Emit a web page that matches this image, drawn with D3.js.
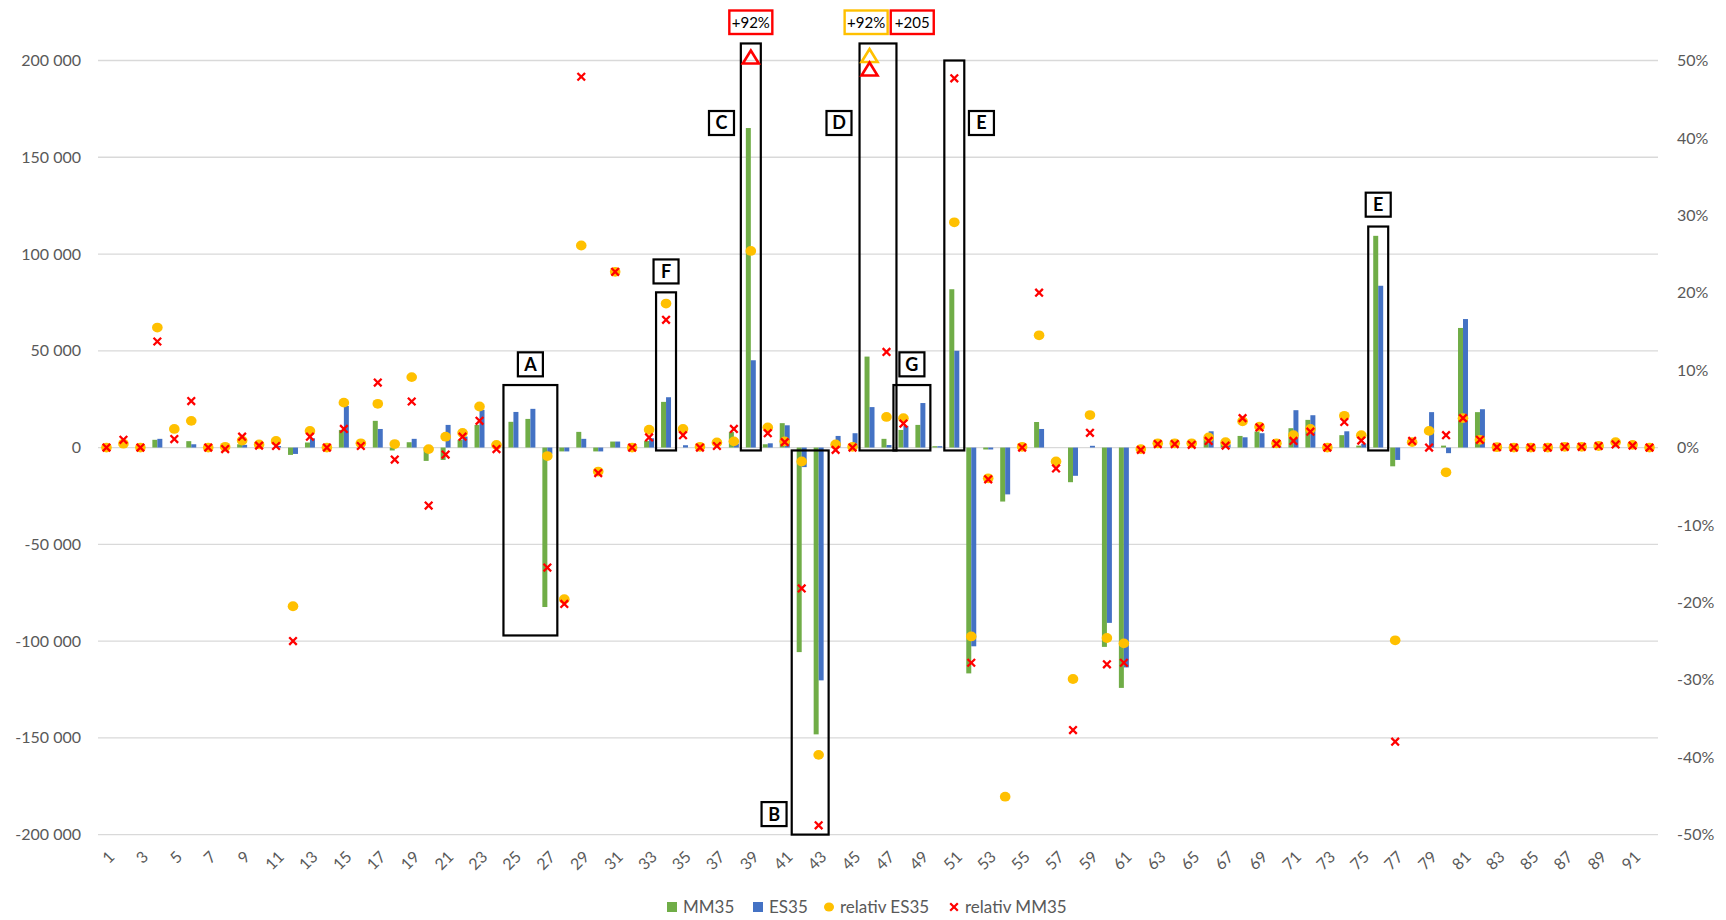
<!DOCTYPE html>
<html>
<head>
<meta charset="utf-8">
<script src="https://cdn.jsdelivr.net/npm/d3@7"></script>
<style>
  html,body{margin:0;padding:0;background:#fff;}
  svg{display:block;font-family:Lato,"Open Sans",sans-serif;}
</style>
</head>
<body>
<svg id="chart" width="1726" height="920"></svg>
<script>
// ---------------- DATA ----------------
const categories = d3.range(1, 93);

const mm35 = [
  0, 0, 0, 4000, 0, 3300, 0, 0, 1700, 0,
  0, -3800, 2600, 0, 9100, 0, 13800, -1500, 2750, -6900,
  -6400, 4000, 11700, 0, 13300, 14800, -82400, -2000, 8100, -2000,
  3100, 0, 3400, 23600, 0, 0, 0, 8000, 165100, 1700,
  12600, -105700, -148200, 0, 0, 47000, 4500, 9100, 11700, 700,
  81800, -116700, -1000, -27900, 0, 13200, 0, -17900, 0, -103000,
  -124200, 0, 0, 0, 0, 4500, 2700, 6000, 8300, 500,
  10000, 14300, 0, 6400, 1000, 109400, -9700, 0, 0, 1000,
  61800, 18300, 0, 0, 0, 0, 0, 0, 0, 0,
  0, 0
];

const es35 = [
  0, 0, 0, 4500, 0, 1700, 0, 0, 1400, 0,
  800, -3300, 4800, 0, 21500, 0, 9600, 0, 4500, 0,
  11700, 5700, 19500, 0, 18400, 20000, -3300, -2000, 4500, -2000,
  3100, 0, 4800, 26000, 1200, 0, 0, 2000, 45100, 2200,
  11500, -10100, -120300, 6000, 7400, 20900, 1300, 11200, 23000, 700,
  50000, -102700, -1000, -24200, 0, 9600, 0, -14600, 900, -90600,
  -113600, 0, 0, 0, 0, 8400, 1700, 5300, 7400, 500,
  19300, 16700, 0, 8400, 2000, 83600, -6400, 0, 18300, -2900,
  66400, 19800, 0, 0, 0, 0, 0, 0, 0, 0,
  0, 0
];

// relative change in percent (right axis); null = no marker
const relES35 = [
  0, 0.5, 0, 15.5, 2.4, 3.45, 0, 0.1, 0.9, 0.4,
  0.85, -20.5, 2.15, 0, 5.8, 0.55, 5.65, 0.45, 9.1, -0.2,
  1.4, 1.9, 5.3, 0.35, null, null, -1.1, -19.6, 26.1, -3.1,
  22.7, 0, 2.3, 18.6, 2.4, 0.1, 0.65, 0.8, 25.4, 2.6,
  0.8, -1.8, -39.7, 0.4, 0.1, 92, 3.95, 3.8, null, null,
  29.1, -24.4, -3.97, -45.1, 0.1, 14.5, -1.8, -29.9, 4.2, -24.6,
  -25.3, -0.2, 0.55, 0.55, 0.55, 1.3, 0.7, 3.4, 2.7, 0.55,
  1.6, 2.4, 0, 4.1, 1.6, null, -24.9, 0.7, 2.15, -3.2,
  3.8, 1.0, 0.05, 0, 0, 0, 0.1, 0.1, 0.2, 0.7,
  0.35, 0
];

const relMM35 = [
  0, 1.0, 0, 13.7, 1.1, 6.0, 0, -0.2, 1.4, 0.25,
  0.2, -25.0, 1.4, 0, 2.4, 0.2, 8.4, -1.55, 5.95, -7.5,
  -0.9, 1.4, 3.45, -0.2, null, null, -15.5, -20.2, 47.9, -3.3,
  22.7, 0, 1.3, 16.5, 1.6, 0, 0.2, 2.4, 92, 1.85,
  0.7, -18.2, -48.8, -0.3, 0, 205, 12.35, 3.1, null, null,
  47.7, -27.8, -4.1, null, 0, 20.0, -2.7, -36.5, 1.9, -28.0,
  -27.8, -0.3, 0.45, 0.45, 0.35, 0.85, 0.25, 3.8, 2.6, 0.5,
  0.85, 2.05, 0, 3.3, 0.9, null, -38.0, 0.85, 0, 1.6,
  3.8, 1.0, 0.05, 0, 0, 0, 0.1, 0.1, 0.2, 0.4,
  0.25, 0
];

const leftTicks = [-200000, -150000, -100000, -50000, 0, 50000, 100000, 150000, 200000];
const rightTicks = [-50, -40, -30, -20, -10, 0, 10, 20, 30, 40, 50];
const seriesNames = ["MM35", "ES35", "relativ ES35", "relativ MM35"];

// annotation boxes: category range + value range (left axis units)
const boxes = [
  {from: 25, to: 27, hi: 32300, lo: -97100},
  {from: 34, to: 34, hi: 80200, lo: -1500},
  {from: 39, to: 39, hi: 208800, lo: -1500},
  {from: 42, to: 43, hi: -1500, lo: -200000},
  {from: 46, to: 47, hi: 208800, lo: -1500},
  {from: 48, to: 49, hi: 32300, lo: -1500},
  {from: 51, to: 51, hi: 200000, lo: -1500},
  {from: 76, to: 76, hi: 114200, lo: -1500}
];
// letter labels: category position + value
const letterLabels = [
  {text: "A", cat: 26, value: 43000},
  {text: "F", cat: 34, value: 91000},
  {text: "C", cat: 37.27, value: 167700},
  {text: "D", cat: 44.2, value: 167700},
  {text: "E", cat: 52.6, value: 167700},
  {text: "B", cat: 40.37, value: -189400},
  {text: "G", cat: 48.5, value: 43000},
  {text: "E", cat: 76, value: 125500}
];
// labels for off-scale values
const offLabels = [
  {text: "+92%", cat: 39, series: "MM"},
  {text: "+92%", cat: 45.8, series: "ES"},
  {text: "+205", cat: 48.52, series: "MM"}
];

// ---------------- STYLE ----------------
const colMM = "#70AD47", colES = "#4472C4", colRelES = "#FFC000", colRelMM = "#FF0000";
const gridCol = "#D9D9D9", textCol = "#595959";

const svg = d3.select("#chart");
svg.append("rect").attr("width", 1726).attr("height", 920).attr("fill", "#fff");

const pL = 98, pR = 1658, pT = 60.5, pB = 834.6;

const x = d3.scaleBand().domain(categories).range([pL, pR]).paddingInner(0).paddingOuter(0);
const x1 = d3.scaleBand().domain(["MM", "ES"]).range([0, x.bandwidth()]).paddingInner(0).paddingOuter(0.7);
const y = d3.scaleLinear().domain([-200000, 200000]).range([pB, pT]);
const yR = d3.scaleLinear().domain([-50, 50]).range([pB, pT]);
const catX = c => pL + (c - 0.5) * x.step();

// gridlines
svg.append("g").selectAll("line").data(leftTicks).join("line")
  .attr("x1", pL).attr("x2", pR)
  .attr("y1", d => y(d)).attr("y2", d => y(d))
  .attr("stroke", gridCol).attr("stroke-width", 1.3);

// left axis
const fmt = d => d3.format(",")(d).replace(/,/g, " ").replace("−", "-");
const gL = svg.append("g").attr("transform", "translate(81,0)")
  .call(d3.axisLeft(y).tickValues(leftTicks).tickSize(0).tickPadding(0).tickFormat(fmt));
gL.select(".domain").remove();
gL.selectAll("text").attr("fill", textCol).style("font-size", "16px").style("font-family", "Lato,sans-serif");

// right axis
const gR = svg.append("g").attr("transform", "translate(1677,0)")
  .call(d3.axisRight(yR).tickValues(rightTicks).tickSize(0).tickPadding(0).tickFormat(d => (d < 0 ? "-" + Math.abs(d) : d) + "%"));
gR.select(".domain").remove();
gR.selectAll("text").attr("fill", textCol).style("font-size", "16px").style("font-family", "Lato,sans-serif");

// bottom axis labels
const gB = svg.append("g").attr("transform", "translate(0,846)")
  .call(d3.axisBottom(x).tickValues(categories.filter(c => c % 2 === 1)).tickSize(0).tickPadding(0));
gB.select(".domain").remove();
gB.selectAll("text")
  .attr("fill", textCol).style("font-size", "16px").style("font-family", "Lato,sans-serif")
  .attr("text-anchor", "end").attr("y", 0).attr("x", 0).attr("dy", "0.35em")
  .attr("transform", "translate(5,8) rotate(-45)");

// bars
const barData = categories.map((c, i) => ({c, mm: mm35[i], es: es35[i]}));
const gBars = svg.append("g");
gBars.selectAll("rect.mm").data(barData).join("rect").attr("class", "mm")
  .attr("x", d => x(d.c) + x1("MM")).attr("width", x1.bandwidth())
  .attr("y", d => y(Math.max(0, d.mm))).attr("height", d => Math.abs(y(d.mm) - y(0)))
  .attr("fill", colMM);
gBars.selectAll("rect.es").data(barData).join("rect").attr("class", "es")
  .attr("x", d => x(d.c) + x1("ES")).attr("width", x1.bandwidth())
  .attr("y", d => y(Math.max(0, d.es))).attr("height", d => Math.abs(y(d.es) - y(0)))
  .attr("fill", colES);

// annotation boxes
svg.append("g").selectAll("rect").data(boxes).join("rect")
  .attr("x", d => x(d.from) - 1.5)
  .attr("width", d => x(d.to) + x.bandwidth() - x(d.from) + 3)
  .attr("y", d => y(d.hi)).attr("height", d => y(d.lo) - y(d.hi))
  .attr("fill", "none").attr("stroke", "#000").attr("stroke-width", 2.2);

// scatter markers (in-range)
const mx = x.bandwidth() / 2;
const esPts = categories.map((c, i) => ({c, v: relES35[i]})).filter(d => d.v !== null && Math.abs(d.v) <= 50);
const mmPts = categories.map((c, i) => ({c, v: relMM35[i]})).filter(d => d.v !== null && Math.abs(d.v) <= 50);
svg.append("g").selectAll("ellipse").data(esPts).join("ellipse")
  .attr("cx", d => x(d.c) + mx).attr("cy", d => yR(d.v))
  .attr("rx", 5.3).attr("ry", 4.9).attr("fill", colRelES);
const s = 3.8;
svg.append("g").selectAll("path").data(mmPts).join("path")
  .attr("transform", d => `translate(${x(d.c) + mx},${yR(d.v)})`)
  .attr("d", `M${-s},${-s}L${s},${s}M${-s},${s}L${s},${-s}`)
  .attr("stroke", colRelMM).attr("stroke-width", 2.3).attr("fill", "none");

// off-scale markers as triangles at the top
const offES = categories.map((c, i) => ({c, v: relES35[i]})).filter(d => d.v !== null && d.v > 50);
const offMM = categories.map((c, i) => ({c, v: relMM35[i], both: relES35[i] !== null && relES35[i] > 50})).filter(d => d.v !== null && d.v > 50);
const tri = "M0,-6.5L8,6.5L-8,6.5Z";
svg.append("g").selectAll("path").data(offES).join("path")
  .attr("transform", d => `translate(${x(d.c) + mx},${yR(50) - 5})`)
  .attr("d", tri).attr("fill", "#fff").attr("stroke", colRelES).attr("stroke-width", 2.6);
svg.append("g").selectAll("path").data(offMM).join("path")
  .attr("transform", d => `translate(${x(d.c) + mx},${yR(50) + (d.both ? 8.5 : -3.5)})`)
  .attr("d", tri).attr("fill", "none").attr("stroke", colRelMM).attr("stroke-width", 2.6);

// letter labels
const gLet = svg.append("g");
letterLabels.forEach(l => {
  const cx = catX(l.cat), cy = y(l.value);
  gLet.append("rect").attr("x", cx - 12.5).attr("y", cy - 12).attr("width", 25).attr("height", 24)
    .attr("fill", "#fff").attr("stroke", "#000").attr("stroke-width", 2.2);
  gLet.append("text").attr("x", cx).attr("y", cy).attr("dy", "0.36em").attr("text-anchor", "middle")
    .style("font-size", "18px").style("font-weight", "bold").attr("fill", "#000").text(l.text);
});

// off-scale value labels
const gOff = svg.append("g");
offLabels.forEach(l => {
  const cx = catX(l.cat);
  gOff.append("rect").attr("x", cx - 21.5).attr("y", 10.5).attr("width", 43).attr("height", 23.5)
    .attr("fill", "#fff").attr("stroke", l.series === "MM" ? colRelMM : colRelES).attr("stroke-width", 2.4);
  gOff.append("text").attr("x", cx).attr("y", 22.5).attr("dy", "0.35em").attr("text-anchor", "middle")
    .style("font-size", "15px").attr("fill", "#000").text(l.text);
});

// legend
const lg = svg.append("g").attr("transform", "translate(0,907)");
const legendItems = [
  {name: seriesNames[0], type: "sq", color: colMM, mx: 672, tx: 683},
  {name: seriesNames[1], type: "sq", color: colES, mx: 758, tx: 769},
  {name: seriesNames[2], type: "circ", color: colRelES, mx: 829, tx: 840},
  {name: seriesNames[3], type: "x", color: colRelMM, mx: 954, tx: 965}
];
legendItems.forEach(it => {
  if (it.type === "sq") lg.append("rect").attr("x", it.mx - 5).attr("y", -5).attr("width", 10).attr("height", 10).attr("fill", it.color);
  else if (it.type === "circ") lg.append("ellipse").attr("cx", it.mx).attr("cy", 0).attr("rx", 5).attr("ry", 4.6).attr("fill", it.color);
  else lg.append("path").attr("transform", `translate(${it.mx},0)`).attr("d", `M${-s},${-s}L${s},${s}M${-s},${s}L${s},${-s}`).attr("stroke", it.color).attr("stroke-width", 2.2);
  lg.append("text").attr("x", it.tx).attr("y", 0).attr("dy", "0.35em").style("font-size", "17px").attr("fill", textCol).text(it.name);
});
</script>
</body>
</html>
